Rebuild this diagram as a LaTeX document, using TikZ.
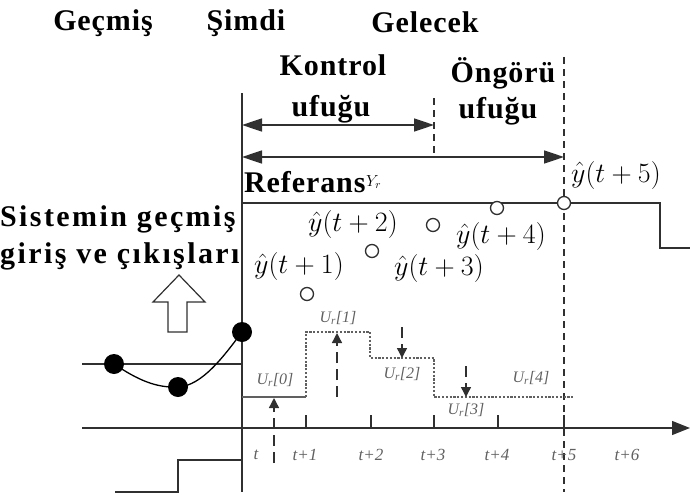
\RequirePackage{fix-cm}
\documentclass[tikz,border=0pt]{standalone}
\usepackage{fontspec}
\setmainfont{Liberation Serif}
\usetikzlibrary{arrows.meta}
\definecolor{lnc}{HTML}{303030}
\definecolor{grc}{HTML}{606060}
\begin{document}
\begin{tikzpicture}[x=1pt,y=-1pt,
  lbl/.style={font=\fontsize{30}{32}\selectfont\bfseries\addfontfeatures{LetterSpace=3}, inner sep=0pt, anchor=base},
  widelbl/.style={font=\fontsize{30}{32}\selectfont\bfseries\addfontfeatures{LetterSpace=8}, inner sep=0pt, anchor=base west},
  mth/.style={font=\fontsize{28}{30}\selectfont, inner sep=0pt, anchor=base west},
  tk/.style={font=\fontsize{17}{19}\selectfont\itshape, text=grc, inner sep=0pt},
  ulbl/.style={font=\fontsize{16}{18}\selectfont\itshape, text=grc, inner sep=0pt},
  ln/.style={line width=1.4pt, draw=lnc},
  dsh/.style={line width=1.4pt, draw=lnc, dash pattern=on 7pt off 5pt},
  dot/.style={line width=1.4pt, draw=grc, dash pattern=on 2.2pt off 1.6pt},
  dar/.style={line width=1.4pt, draw=lnc, dash pattern=on 11pt off 6pt, -{Triangle[length=10pt,width=10pt]}},
  bigtip/.style={line width=1.6pt, draw=lnc, {Triangle[length=20pt,width=13pt]}-{Triangle[length=20pt,width=13pt]}},
  hole/.style={circle, draw=lnc, line width=1.3pt, fill=white, minimum size=13pt, inner sep=0pt},
  blob/.style={circle, fill=black, minimum size=20pt, inner sep=0pt},
  tick/.style={line width=1.6pt, draw=lnc}
]
\useasboundingbox (0,0) rectangle (690,495);

% headings
\node[lbl] (gec) at (103,31) {Geçmiş};
\node[lbl] (sim) at (246,31) {Şimdi};
\node[lbl] (gel) at (425,33) {Gelecek};
\node[lbl] (kon) at (333,75) {Kontrol};
\node[lbl] (ku) at (331,116) {ufuğu};
\node[lbl] (ong) at (503,82) {Öngörü};
\node[lbl] (ou) at (498,118) {ufuğu};
\node[lbl, anchor=base west] (ref) at (244,192) {Referans};
\node[font=\fontsize{16}{18}\selectfont, inner sep=0pt, anchor=base west] (yr) at (366,186) {$Y_r$};
\node[widelbl] (sis1) at (0,226) {Sistemin geçmiş};
\node[widelbl] (sis2) at (0,263) {giriş ve çıkışları};

% now line and time axis
\coordinate (vtop) at (242,93);
\coordinate (vbot) at (242,492);
\draw[ln] (vtop) -- (vbot);
\coordinate (ax0) at (82,428);
\coordinate (ax1) at (690,428);
\draw[ln, -{Triangle[length=18pt,width=14pt]}] (ax0) -- (ax1);
\foreach \xx in {306,371,434,498,564} \draw[tick] (\xx,415) -- (\xx,428);

% horizon dashed lines
\coordinate (ch0) at (434,98);
\coordinate (ch1) at (434,157);
\draw[dsh] (ch0) -- (ch1);
\coordinate (ph0) at (564,57);
\coordinate (ph1) at (564,492);
\draw[dsh] (ph0) -- (ph1);

% horizon arrows
\coordinate (ka) at (242,125);
\coordinate (kb) at (434,125);
\draw[bigtip] (ka) -- (kb);
\coordinate (pa) at (242,157);
\coordinate (pb) at (564,157);
\draw[bigtip] (pa) -- (pb);

% reference trajectory
\coordinate (r0) at (242,203);
\coordinate (r1) at (660,203);
\coordinate (r2) at (660,248);
\coordinate (r3) at (690,248);
\draw[ln] (r0) -- (r1) -- (r2) -- (r3);

% predicted outputs
\node[hole] (o1) at (307,294) {};
\node[hole] (o2) at (372,251) {};
\node[hole] (o3) at (433,225) {};
\node[hole] (o4) at (497,208) {};
\node[hole] (o5) at (564,203) {};
\node[mth] (y1) at (254,273) {$\hat{y}(t+1)$};
\node[mth] (y2) at (308,231) {$\hat{y}(t+2)$};
\node[mth] (y3) at (394,275) {$\hat{y}(t+3)$};
\node[mth] (y4) at (456,243) {$\hat{y}(t+4)$};
\node[mth] (y5) at (571,182) {$\hat{y}(t+5)$};

% past outputs
\coordinate (po0) at (82,364);
\coordinate (po1) at (242,364);
\draw[ln] (po0) -- (po1);
\node[blob] (d1) at (114,364) {};
\node[blob] (d2) at (178,387) {};
\node[blob] (d3) at (242,332) {};
\draw[line width=1.3pt, draw=black] (d1.center) .. controls (138,380) and (156,388) .. (d2.center)
  .. controls (202,386) and (224,356) .. (d3.center);

% past input
\coordinate (pi0) at (115,492);
\coordinate (pi1) at (178,492);
\coordinate (pi2) at (178,460);
\coordinate (pi3) at (242,460);
\draw[ln] (pi0) -- (pi1) -- (pi2) -- (pi3);

% hollow arrow
\draw[line width=1.2pt, draw=lnc] (179,275) -- (205,302) -- (187,302) -- (187,332) -- (168,332) -- (168,302) -- (153,302) -- cycle;

% future control moves
\coordinate (u0) at (242,397);
\coordinate (u1) at (306,397);
\coordinate (u2) at (306,332);
\coordinate (u3) at (370,332);
\coordinate (u4) at (370,358);
\coordinate (u5) at (434,358);
\coordinate (u6) at (434,397);
\coordinate (u7) at (574,397);
\draw[line width=1.4pt, draw=grc] (u0) -- (u1);
\draw[dot] (u1) -- (u2) -- (u3) -- (u4) -- (u5) -- (u6) -- (u7);

\coordinate (a0s) at (274,463);
\coordinate (a0e) at (274,398);
\draw[dar] (a0s) -- (a0e);
\coordinate (a1s) at (337,397);
\coordinate (a1e) at (337,333);
\draw[dar] (a1s) -- (a1e);
\coordinate (a2s) at (402,327);
\coordinate (a2e) at (402,358);
\draw[dar] (a2s) -- (a2e);
\coordinate (a3s) at (466,366);
\coordinate (a3e) at (466,397);
\draw[dar] (a3s) -- (a3e);

\node[ulbl] (ul0) at (275,380) {U\textsubscript{r}[0]};
\node[ulbl] (ul1) at (338,318) {U\textsubscript{r}[1]};
\node[ulbl] (ul2) at (402,374) {U\textsubscript{r}[2]};
\node[ulbl] (ul3) at (466,410) {U\textsubscript{r}[3]};
\node[ulbl] (ul4) at (531,378) {U\textsubscript{r}[4]};

% tick labels
\node[tk] (t0) at (256,455) {t};
\node[tk] (t1) at (305,455) {t+1};
\node[tk] (t2) at (371,455) {t+2};
\node[tk] (t3) at (433,455) {t+3};
\node[tk] (t4) at (497,455) {t+4};
\node[tk] (t5) at (564,455) {t+5};
\node[tk] (t6) at (627,455) {t+6};
\end{tikzpicture}
\end{document}
